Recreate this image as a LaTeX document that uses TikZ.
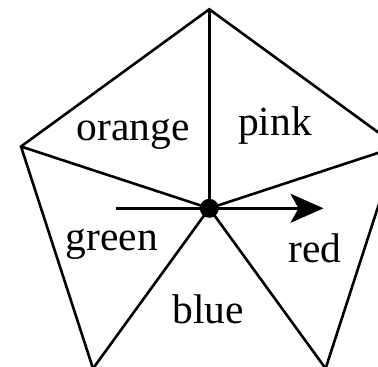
\documentclass[tikz,border=0pt]{standalone}
\usepackage{fontspec}
\setmainfont{Liberation Serif}
\usetikzlibrary{arrows.meta}
\begin{document}
\begin{tikzpicture}[x=1pt,y=-1pt,
  edge/.style={line width=2.6pt, line join=miter},
  lbl/.style={anchor=base, inner sep=0pt, font=\fontsize{41.5}{41.5}\selectfont},
  dot/.style={circle, fill=black, minimum size=19pt, inner sep=0pt}]
\useasboundingbox (0,0) rectangle (378,367);
\clip (0,0) rectangle (378,367);
\coordinate (T) at (209.3,9.3);
\coordinate (L) at (21,146.5);
\coordinate (R) at (397.6,146.5);
\coordinate (BL) at (93,368.5);
\coordinate (BR) at (325.6,368.5);
\node[dot] (c) at (209.3,208.3) {};
\draw[edge] (L) -- (T) -- (R) -- (BR) -- (BL) -- cycle;
\draw[edge] (c.center) -- (T);
\draw[edge] (c.center) -- (L);
\draw[edge] (c.center) -- (R);
\draw[edge] (c.center) -- (BL);
\draw[edge] (c.center) -- (BR);
\coordinate (a0) at (115.5,208.3);
\coordinate (a1) at (323.5,208.3);
\draw[edge, -{Stealth[length=33pt, width=29pt, inset=8pt]}] (a0) -- (a1);
\node[lbl] (orange) at (133,140) {orange};
\node[lbl] (pink) at (275,135) {pink};
\node[lbl] (green) at (112,250) {green};
\node[lbl] (red) at (315,262) {red};
\node[lbl] (blue) at (208,323) {blue};
\end{tikzpicture}
\end{document}
